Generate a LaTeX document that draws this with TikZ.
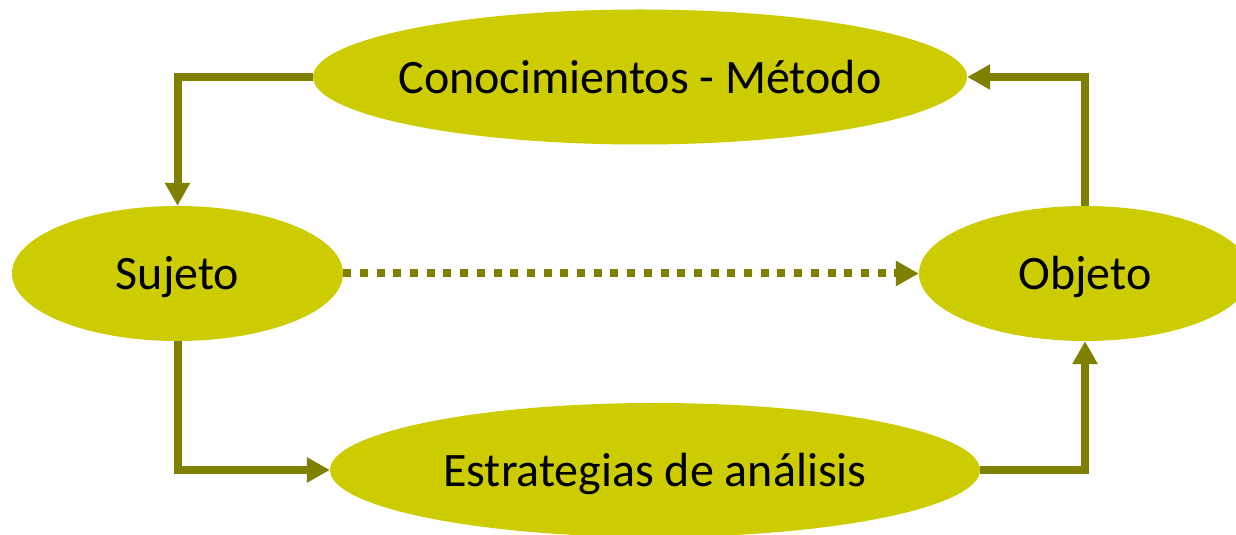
\documentclass[tikz,border=0pt]{standalone}
\usepackage{fontspec}
\setmainfont{Carlito}
\usetikzlibrary{shapes.geometric,arrows.meta}
\definecolor{fillc}{RGB}{204,204,0}
\definecolor{linec}{RGB}{128,128,0}
\newcommand{\nb}[1]{\makebox[0pt]{#1}}
\tikzset{
  blob/.style={ellipse, fill=fillc, draw=none, inner sep=0pt, text height=43pt, text depth=10pt, font=\fontsize{48}{52}\selectfont},
  conn/.style={draw=linec, line width=8pt, -{Triangle[width=24pt,length=23pt]}},
  dotconn/.style={conn, dash pattern=on 8pt off 8.7pt}
}
\begin{document}
\begin{tikzpicture}[x=1pt,y=1pt]
\useasboundingbox (0,0) rectangle (1236,535);
\node[blob, minimum width=654pt, minimum height=135pt] (top) at (640,458) {\nb{Conocimientos - Método}};
\node[blob, minimum width=331pt, minimum height=135pt] (suj) at (177.5,261.5) {\nb{Sujeto}};
\node[blob, minimum width=332pt, minimum height=135pt] (obj) at (1085,261.5) {\nb{Objeto}};
\node[blob, minimum width=650pt, minimum height=134pt] (bot) at (655,65) {\nb{Estrategias de análisis}};
\draw[conn] (top.west) -| (suj.north);
\draw[conn] (suj.south) |- (bot.west);
\draw[conn] (bot.east) -| (obj.south);
\draw[conn] (obj.north) |- (top.east);
\draw[dotconn] (suj.east) -- (obj.west);
\end{tikzpicture}
\end{document}
